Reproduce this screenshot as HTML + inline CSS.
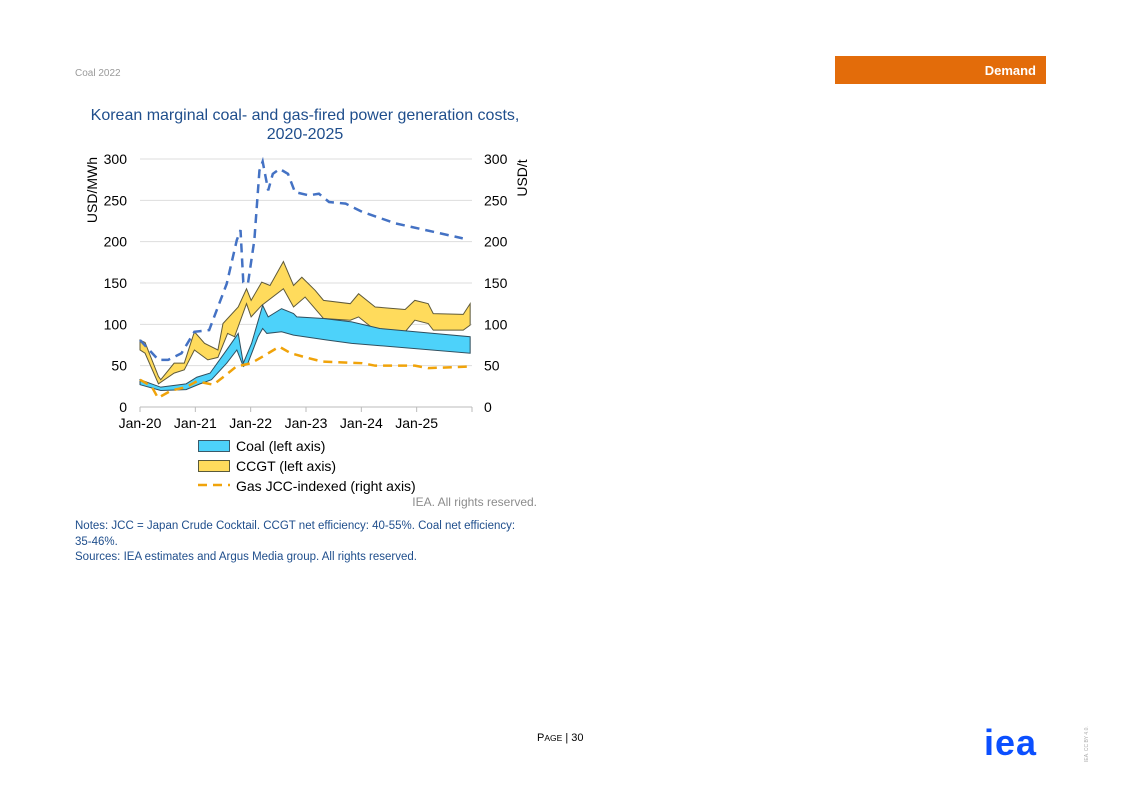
<!DOCTYPE html>
<html><head><meta charset="utf-8">
<style>
body{margin:0;width:1122px;height:793px;background:#fff;font-family:"Liberation Sans",sans-serif;position:relative;overflow:hidden}
.a{position:absolute;white-space:nowrap}
</style></head><body>
<div class="a" style="left:75px;top:68px;font-size:10px;color:#9a9a9a">Coal 2022</div>
<div class="a" style="left:835px;top:56px;width:211px;height:28px;background:#e36c0a"><span class="a" style="right:10px;top:7px;color:#fff;font-weight:bold;font-size:13px">Demand</span></div>
<div class="a" style="left:60px;width:490px;top:107px;text-align:center;font-size:16px;color:#1f4e8c;line-height:18.5px">Korean marginal coal- and gas-fired power generation costs,<br>2020-2025</div>
<svg class="a" style="left:0;top:0" width="1122" height="793">
<g id="grid"></g><g id="marks"></g><g id="axes"></g>
</svg>
<div class="a" style="left:198px;top:436px;font-size:14px;line-height:20px;color:#000">
<div><span style="display:inline-block;width:30px;height:10px;background:#4dd2fa;border:1px solid #3a5a6a;vertical-align:-1px;margin-right:6px"></span>Coal (left axis)</div>
<div><span style="display:inline-block;width:30px;height:10px;background:#ffdb5c;border:1px solid #5a5a3a;vertical-align:-1px;margin-right:6px"></span>CCGT (left axis)</div>
<div><svg width="32" height="6" style="vertical-align:3px;margin-right:6px"><line x1="0" y1="3" x2="32" y2="3" stroke="#f0a30a" stroke-width="2.5" stroke-dasharray="9,6"/></svg>Gas JCC-indexed (right axis)</div>
</div>
<div class="a" style="right:585px;top:495px;font-size:12px;color:#8c8c8c">IEA. All rights reserved.</div>
<div class="a" style="left:75px;top:519px;font-size:11.5px;color:#1f4e8c;line-height:15.5px;white-space:normal;width:455px">Notes: JCC = Japan Crude Cocktail. CCGT net efficiency: 40-55%. Coal net efficiency: 35-46%.<br>Sources: IEA estimates and Argus Media group. All rights reserved.</div>
<div class="a" style="left:537px;top:732px;font-size:11px;color:#000">P<span style="font-size:8.5px">AGE</span> | 30</div>
<div class="a" style="left:984px;top:722px;font-size:36px;font-weight:bold;color:#0b4fff;letter-spacing:1px">iea</div>
<div class="a" style="left:1084px;top:762px;font-size:5px;color:#aaa;transform:rotate(-90deg);transform-origin:0 0">IEA. CC BY 4.0.</div>
<script>
const xLabels=["Jan-20","Jan-21","Jan-22","Jan-23","Jan-24","Jan-25"];
const yTicks=[0,50,100,150,200,250,300];
const coalTopM=[0,4.5,10,12.3,15.2,18.8,21.3,22.4,24.2,26.6,27.8,30.7,33.3,34,39.8,45.9,52,71.6];
const coalTopV=[33,24,28,36,41,69,89,53,77,123,109,119,113,109,107,103,95,85];
const coalBotM=[0,4.5,10,13,15.5,18.8,21,22.4,23.4,25.6,26.6,27.5,30.7,33.3,40.5,45.9,71.6];
const coalBotV=[27,20,21,28,33,53,69,49,53,85,95,89,91,87,81,77,65];
const ccgtTopM=[0,1.1,4,4.5,7.4,9.6,11.8,14,16.9,18,21.3,23.1,24.1,26.4,28.2,31.1,33.3,35.1,38,39.8,45.6,47.4,51,57.5,59.6,62.5,63.6,70.1,71.6];
const ccgtTopV=[81,78,37,33,53,53,91,77,69,101,121,143,129,151,147,176,147,157,141,129,125,137,121,118,129,125,113,112,125];
const ccgtBotM=[0,1.1,4,7.4,9.6,11.8,14.7,16.9,19,20.5,23.1,24.1,26.4,31.1,33.3,35.8,39.8,45.6,47.4,51,57.5,59.6,62.5,63.6,70.1,71.6];
const ccgtBotV=[69,65,28,41,45,69,57,60,89,85,125,109,123,143,121,133,107,105,109,93,91,105,101,93,93,99];
const jccM=[0,2.5,3.9,6.8,10,12.3,15.9,18,20.9,24.1,26.6,30.2,32.7,36.6,39.5,48.2,51,59.6,62.5,71.6];
const jccV=[33,25,11,20,24,31,27,36,49,53,61,73,65,59,55,53,50,50,47,49];
const blueM=[0,4,6.1,9,11.8,15,18.8,21,21.8,22.4,23.4,24.8,25.9,26.6,27.8,28.8,30.3,32.1,33.6,36.6,38.8,41,44.6,48.2,55.5,70];
const blueV=[81,57,57,65,91,93,149,202,214,151,149,202,286,297,262,282,288,282,260,256,258,248,246,236,222,204];
const X0=140,X1=472,Y0=407,Y1=159;
const xs=m=>X0+m*(X1-X0)/72;
const ys=v=>Y0-v*(Y0-Y1)/300;
const NS="http://www.w3.org/2000/svg";
function mk(p,t,a){const e=document.createElementNS(NS,t);for(const k in a)e.setAttribute(k,a[k]);document.getElementById(p).appendChild(e);return e;}
function txt(p,x,y,s,anchor,extra){const e=mk(p,"text",Object.assign({x:x,y:y,"text-anchor":anchor,"font-size":14,fill:"#000","font-family":"Liberation Sans, sans-serif"},extra||{}));e.textContent=s;return e;}
yTicks.forEach(v=>{
 const g=mk("grid","line",{x1:X0,x2:X1,y1:ys(v),y2:ys(v),stroke:v===0?"#bbb":"#ddd","stroke-width":1});
 
 
 const l=txt("axes",127,ys(v)+5,String(v),"end");
 
 
 const r=txt("axes",484,ys(v)+5,String(v),"start");
 
 
});
for(let i=0;i<=6;i++){mk("axes","line",{x1:xs(i*12),x2:xs(i*12),y1:Y0,y2:Y0+5,stroke:"#bbb"});}
xLabels.forEach((s,i)=>{
 const t=txt("axes",xs(i*12),428,s,"middle");
 
 
});
const yl=txt("axes",0,0,"USD/MWh","middle",{transform:"translate(97,190) rotate(-90)"});


const yr=txt("axes",0,0,"USD/t","middle",{transform:"translate(527,178) rotate(-90)"});


function band(tm,tv,bm,bv){let p=tm.map((m,i)=>xs(m)+","+ys(tv[i]));for(let i=bm.length-1;i>=0;i--)p.push(xs(bm[i])+","+ys(bv[i]));return p.join(" ");}
const cc=mk("marks","polygon",{points:band(ccgtTopM,ccgtTopV,ccgtBotM,ccgtBotV),fill:"#ffdb5c",stroke:"#5f5a3a","stroke-width":1});


const co=mk("marks","polygon",{points:band(coalTopM,coalTopV,coalBotM,coalBotV),fill:"#4dd2fa",stroke:"#2f4f5f","stroke-width":1});


const jc=mk("marks","polyline",{points:jccM.map((m,i)=>xs(m)+","+ys(jccV[i])).join(" "),fill:"none",stroke:"#f0a30a","stroke-width":2.5,"stroke-dasharray":"9,6"});


const bl=mk("marks","polyline",{points:blueM.map((m,i)=>xs(m)+","+ys(blueV[i])).join(" "),fill:"none",stroke:"#4472c4","stroke-width":2.5,"stroke-dasharray":"9,6"});


</script>
</body></html>
